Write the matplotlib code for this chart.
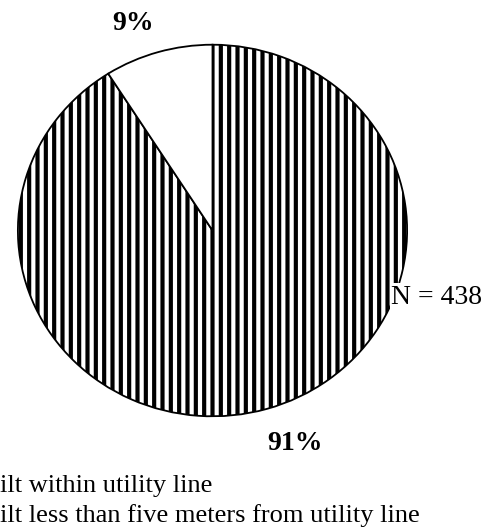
import matplotlib.pyplot as plt

# Datos del gráfico
categorias = ["ilt within utility line", "ilt less than five meters from utility line"]
porcentajes = [91, 9]
etiquetas = ["91%", "9%"]
n_total = 438

plt.rcParams["hatch.linewidth"] = 3.0
plt.rcParams["font.family"] = ["Liberation Serif", "DejaVu Serif"]

fig = plt.figure(figsize=(4.82, 5.29), dpi=100)
ax = fig.add_axes([14 / 482, 1 - 420 / 529, 397 / 482, 379 / 529])

wedges, _ = ax.pie(
    porcentajes,
    startangle=90,
    counterclock=False,
    colors=["white", "white"],
    wedgeprops=dict(edgecolor="black", linewidth=1.3),
)
wedges[0].set_hatch("||")

ax.set_aspect("auto")
ax.set_xlim(-1.02, 1.02)
ax.set_ylim(-1.02, 1.02)
ax.axis("off")

# Etiquetas de porcentaje
fig.text(295 / 482, 1 - 443 / 529, etiquetas[0], ha="center", va="center",
         fontsize=20, fontweight="bold")
fig.text(133 / 482, 1 - 23 / 529, etiquetas[1], ha="center", va="center",
         fontsize=20, fontweight="bold")
fig.text(1.0, 1 - 297 / 529, f"N = {n_total}", ha="right", va="center", fontsize=20,
         bbox=dict(facecolor="white", edgecolor="none", pad=1.0))

# Leyenda (recortada a la izquierda en el original)
fig.text(0.0, 1 - 486 / 529, categorias[0], ha="left", va="center", fontsize=19)
fig.text(0.0, 1 - 516 / 529, categorias[1], ha="left", va="center", fontsize=19)

fig.savefig("out.png", dpi=100)
plt.close(fig)
